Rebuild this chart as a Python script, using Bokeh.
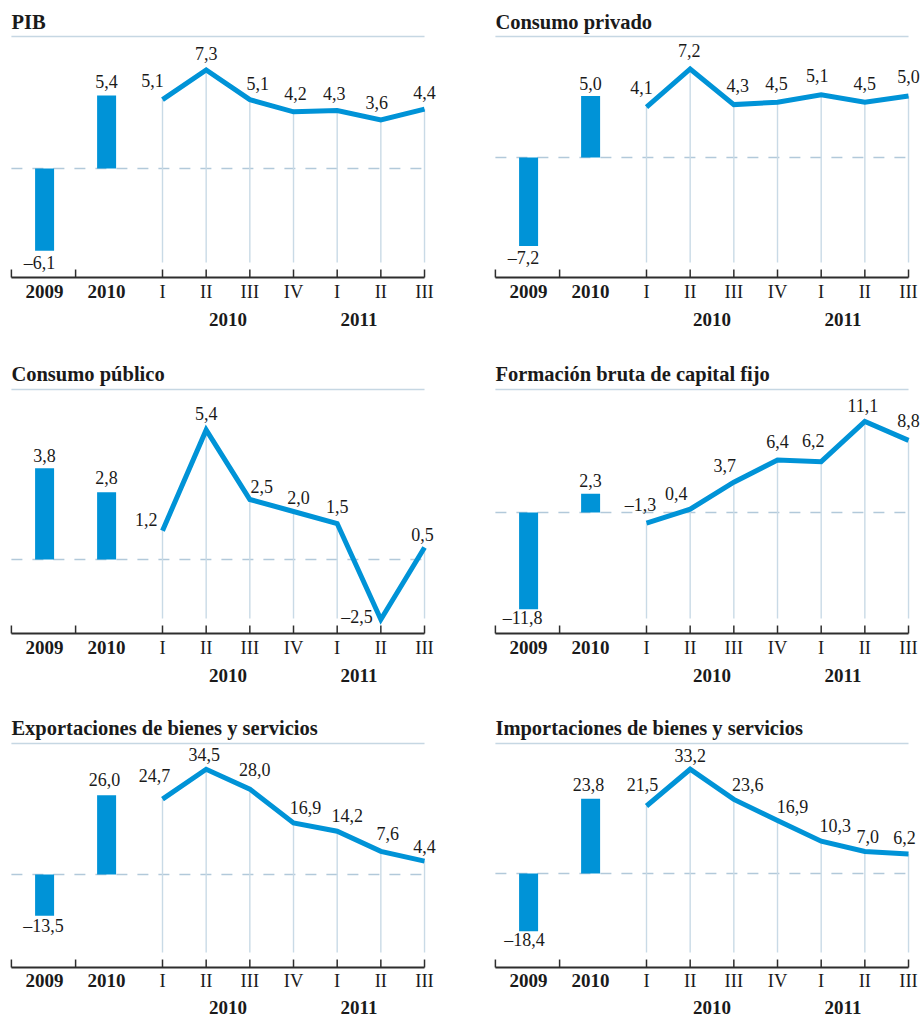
from bokeh.plotting import figure
from bokeh.layouts import gridplot
from bokeh.models import Range1d
from bokeh.core.properties import value
from bokeh.embed import file_html
from bokeh.resources import INLINE

# ---------------------------------------------------------------- data
YEARS = ["2009", "2010"]
QUARTERS = ["I", "II", "III", "IV", "I", "II", "III"]
GROUP_YEARS = ["2010", "2011"]

PIB_ANUAL = [-6.1, 5.4]
PIB_TRIM = [5.1, 7.3, 5.1, 4.2, 4.3, 3.6, 4.4]

CPRIV_ANUAL = [-7.2, 5.0]
CPRIV_TRIM = [4.1, 7.2, 4.3, 4.5, 5.1, 4.5, 5.0]

CPUB_ANUAL = [3.8, 2.8]
CPUB_TRIM = [1.2, 5.4, 2.5, 2.0, 1.5, -2.5, 0.5]

FBCF_ANUAL = [-11.8, 2.3]
FBCF_TRIM = [-1.3, 0.4, 3.7, 6.4, 6.2, 11.1, 8.8]

EXP_ANUAL = [-13.5, 26.0]
EXP_TRIM = [24.7, 34.5, 28.0, 16.9, 14.2, 7.6, 4.4]

IMP_ANUAL = [-18.4, 23.8]
IMP_TRIM = [21.5, 33.2, 23.6, 16.9, 10.3, 7.0, 6.2]

# ---------------------------------------------------------------- style
BLUE = "#0093d7"
GRID = "#c9dae6"
ZERO = "#b2c9da"
RULE = "#c6d7e3"
AXIS = "#2e2e2e"
INK = "#1a1a1a"
FONT = value("Liberation Serif")

# ---------------------------------------------------------------- layout (pixels)
STEP = 43.67                      # px between quarters
COL_LEFT = [0, 460]
COL_W = [460, 461]
Q0 = [162, 646]                   # px of first quarter in each column
ROW_TOP = [0, 345, 700]
ROW_H = [345, 355, 317]
ROW_TITLE = [28, 380, 734]
ROW_RULE = [36, 389, 743]
ROW_AXIS = [277, 633, 967]
ROW_TICKLAB = [298, 654, 987]
ROW_GROUPLAB = [326, 682, 1014]
TEXT_LIFT = 7                     # renderer draws the baseline a little low

ANNUAL_POS = [-2.70, -1.28]       # bar centres, in quarter units
ANNUAL_TICKS = [-3.46, -1.99]
GROUP_POS = [1.5, 4.5]
BAR_W = 0.435


def fmt(v):
    s = f"{abs(v):.1f}".replace(".", ",")
    return ("\u2013" + s) if v < 0 else s


PANELS = [
    dict(title="PIB", annual=PIB_ANUAL, trim=PIB_TRIM,
         zero=168, scale=13.5,
         qn=[(-10, -12), (0, -9), (8, -9), (2, -11), (-3, -10), (-4, -10), (0, -10)],
         an=[(-5, 19), (0, -7)]),
    dict(title="Consumo privado", annual=CPRIV_ANUAL, trim=CPRIV_TRIM,
         zero=157, scale=12.3,
         qn=[(-5, -13), (-1, -11), (4, -12), (-1, -12), (-4, -12), (0, -12), (0, -13)],
         an=[(-5, 19), (0, -6)]),
    dict(title="Consumo público", annual=CPUB_ANUAL, trim=CPUB_TRIM,
         zero=559, scale=24.0,
         qn=[(-5, -4, "right"), (0, -9), (12, -6), (5, -7), (0, -10), (-8, 4, "right"), (-2, -6)],
         an=[(0, -6), (0, -8)]),
    dict(title="Formación bruta de capital fijo", annual=FBCF_ANUAL, trim=FBCF_TRIM,
         zero=512, scale=8.2,
         qn=[(-6, -11), (-14, -9), (-9, -10), (0, -12), (-8, -14), (-2, -9), (0, -13)],
         an=[(-6, 16), (0, -6)]),
    dict(title="Exportaciones de bienes y servicios", annual=EXP_ANUAL, trim=EXP_TRIM,
         zero=874, scale=3.05,
         qn=[(-8, -17), (-2, -8), (5, -13), (12, -8), (10, -9), (7, -11), (0, -8)],
         an=[(-1, 17), (-2, -9)]),
    dict(title="Importaciones de bienes y servicios", annual=IMP_ANUAL, trim=IMP_TRIM,
         zero=873, scale=3.14,
         qn=[(-4, -14), (0, -7), (14, -8), (15, -7), (14, -9), (3, -8), (-4, -10)],
         an=[(-4, 16), (-2, -7)]),
]


def build(spec, row, col):
    zero, sc = spec["zero"], spec["scale"]
    top, h = ROW_TOP[row], ROW_H[row]
    left, w = COL_LEFT[col], COL_W[col]
    q0 = Q0[col]

    def yv(Y):            # page pixel -> value
        return (zero - Y) / sc

    def xv(X):            # page pixel -> quarter units
        return (X - q0) / STEP

    p = figure(width=w, height=h, output_backend="svg", toolbar_location=None,
               x_range=Range1d(xv(left), xv(left + w)),
               y_range=Range1d(yv(top + h), yv(top)),
               x_axis_type=None, y_axis_type=None, min_border=0,
               min_border_left=0, min_border_right=0, min_border_top=0, min_border_bottom=0,
               outline_line_color=None, background_fill_color="white",
               border_fill_color="white")

    qx = list(range(len(QUARTERS)))
    x_first = ANNUAL_TICKS[0]
    x_last = qx[-1]
    lift = TEXT_LIFT / sc

    # title and its rule
    p.text(x=[x_first], y=[yv(ROW_TITLE[row] - TEXT_LIFT)], text=[spec["title"]],
           text_font=FONT, text_font_size="20.5px", text_font_style="bold",
           text_color=INK, text_align="left", text_baseline="alphabetic")
    p.segment(x0=[x_first], y0=[yv(ROW_RULE[row])], x1=[x_last], y1=[yv(ROW_RULE[row])],
              line_color=RULE, line_width=1.6)

    # dashed zero reference
    p.segment(x0=[x_first], y0=[0], x1=[x_last], y1=[0], line_color=ZERO,
              line_width=1.4, line_dash="11 10")

    # quarter guides from each point down to the axis
    y_guide_end = yv(ROW_AXIS[row] - 15)
    p.segment(x0=qx, y0=spec["trim"], x1=qx, y1=[y_guide_end] * len(qx),
              line_color=GRID, line_width=1.4)

    # annual bars and quarterly line
    p.vbar(x=ANNUAL_POS, top=spec["annual"], bottom=0, width=BAR_W,
           fill_color=BLUE, line_color=None)
    p.line(qx, spec["trim"], line_color=BLUE, line_width=5, line_join="miter")

    # value labels
    groups = {}
    for i, v in enumerate(spec["trim"]):
        n = spec["qn"][i]
        align = n[2] if len(n) > 2 else "center"
        g = groups.setdefault(align, ([], [], []))
        g[0].append(qx[i] + n[0] / STEP)
        g[1].append(v - n[1] / sc + lift)
        g[2].append(fmt(v))
    for i, v in enumerate(spec["annual"]):
        n = spec["an"][i]
        g = groups.setdefault("center", ([], [], []))
        g[0].append(ANNUAL_POS[i] + n[0] / STEP)
        g[1].append(v - n[1] / sc + lift)
        g[2].append(fmt(v))
    for align, (xs, ys, ts) in groups.items():
        p.text(x=xs, y=ys, text=ts, text_font=FONT, text_font_size="18px",
               text_color=INK, text_align=align, text_baseline="alphabetic")

    # bottom axis with ticks
    y_ax = yv(ROW_AXIS[row])
    p.segment(x0=[x_first], y0=[y_ax], x1=[x_last], y1=[y_ax],
              line_color=AXIS, line_width=2)
    ticks = ANNUAL_TICKS + qx
    p.segment(x0=ticks, y0=[y_ax] * len(ticks), x1=ticks,
              y1=[yv(ROW_AXIS[row] - 8)] * len(ticks), line_color=AXIS, line_width=1.5)

    y_tl = yv(ROW_TICKLAB[row] - TEXT_LIFT)
    p.text(x=ANNUAL_POS, y=[y_tl] * 2, text=YEARS, text_font=FONT, text_font_size="19px",
           text_font_style="bold", text_color=INK, text_align="center",
           text_baseline="alphabetic")
    p.text(x=qx, y=[y_tl] * len(qx), text=QUARTERS, text_font=FONT, text_font_size="18.5px",
           text_color=INK, text_align="center", text_baseline="alphabetic")
    y_gl = yv(ROW_GROUPLAB[row] - TEXT_LIFT)
    p.text(x=GROUP_POS, y=[y_gl] * 2, text=GROUP_YEARS, text_font=FONT,
           text_font_size="19px", text_font_style="bold", text_color=INK,
           text_align="center", text_baseline="alphabetic")
    return p


figs = [build(spec, i // 2, i % 2) for i, spec in enumerate(PANELS)]
grid = gridplot([[figs[0], figs[1]], [figs[2], figs[3]], [figs[4], figs[5]]],
                toolbar_location=None)

open("out.html", "w").write(file_html(grid, INLINE))
